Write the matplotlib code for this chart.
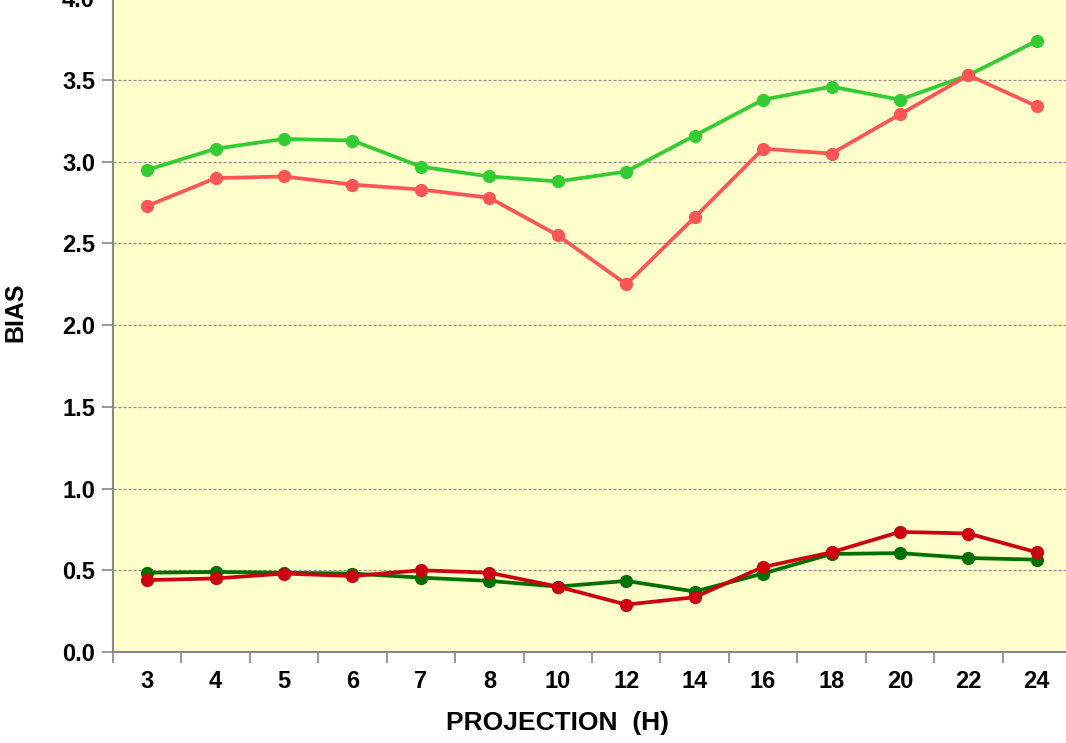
import matplotlib.pyplot as plt
import numpy as np

plt.rcParams['font.family'] = ['Liberation Sans', 'DejaVu Sans']
plt.rcParams['font.weight'] = 'bold'

projections = ['3', '4', '5', '6', '7', '8', '10', '12', '14', '16', '18', '20', '22', '24']

light_green = [2.95, 3.08, 3.14, 3.13, 2.97, 2.91, 2.88, 2.94, 3.16, 3.38, 3.46, 3.38, 3.53, 3.74]
light_red = [2.73, 2.90, 2.91, 2.86, 2.83, 2.78, 2.55, 2.25, 2.66, 3.08, 3.05, 3.29, 3.53, 3.34]
dark_green = [0.485, 0.49, 0.485, 0.48, 0.455, 0.435, 0.40, 0.435, 0.37, 0.48, 0.60, 0.605, 0.575, 0.565]
dark_red = [0.44, 0.45, 0.48, 0.465, 0.50, 0.485, 0.40, 0.29, 0.335, 0.52, 0.61, 0.735, 0.725, 0.61]

fig = plt.figure(figsize=(10.66, 7.43), dpi=100)
ax = fig.add_axes([0.106, 0.1225, 0.8987, 0.8797])
ax.set_facecolor('#ffffcc')

x = np.arange(len(projections))
series = [
    (light_green, '#33cc33'),
    (light_red, '#ff5555'),
    (dark_green, '#007000'),
    (dark_red, '#cc0010'),
]
for vals, col in series:
    ax.plot(x, vals, color=col, lw=2.7, marker='o', ms=8.5, zorder=3)

ax.set_xlim(-0.5, len(projections) - 0.5)
ax.set_ylim(0, 4.0)
ax.set_yticks(np.arange(0, 4.01, 0.5))
ax.set_yticklabels(['%.1f' % v for v in np.arange(0, 4.01, 0.5)])
ax.yaxis.grid(True, color='#909090', ls=(0, (2.5, 1.5)), lw=0.9)
ax.set_axisbelow(True)

ax.set_xticks(x)
ax.set_xticklabels(projections)
ax.set_xticks(np.arange(-0.5, len(projections)), minor=True)
ax.tick_params(axis='x', which='major', length=0, pad=13, labelsize=17)
ax.tick_params(axis='x', which='minor', length=8, color='#888888', width=1.2)
ax.tick_params(axis='y', length=8, color='#888888', width=1.2, labelsize=17, pad=5)

for s in ['top', 'right']:
    ax.spines[s].set_visible(False)
for s in ['left', 'bottom']:
    ax.spines[s].set_color('#888888')
    ax.spines[s].set_linewidth(1.5)

ax.set_ylabel('BIAS', fontsize=18, fontweight='bold', va='center')
ax.set_xlabel('PROJECTION  (H)', fontsize=19, fontweight='bold', va='center')
ax.yaxis.set_label_coords(-0.102, 0.52)
ax.xaxis.set_label_coords(0.4645, -0.1086)

fig.savefig('out.png', dpi=100)
